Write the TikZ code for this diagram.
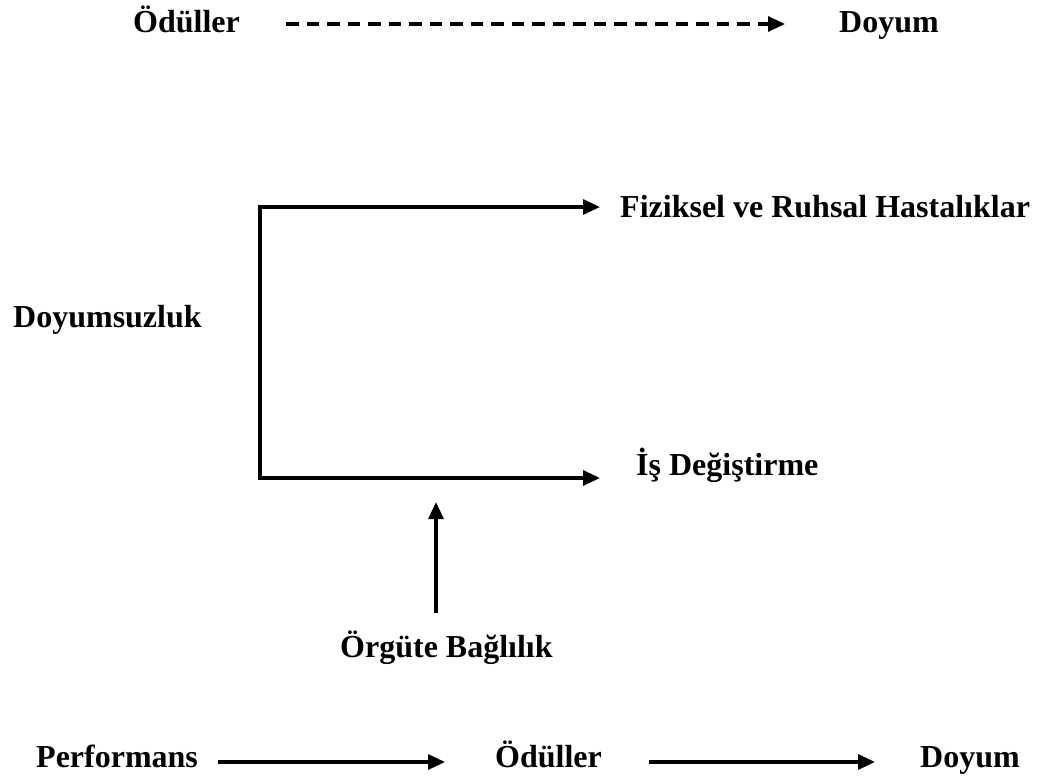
\documentclass[tikz,border=0pt]{standalone}
\usepackage{fontspec}
\setmainfont{Liberation Serif}
\usetikzlibrary{arrows.meta}
\begin{document}
\begin{tikzpicture}[x=1pt,y=-1pt,
  lbl/.style={anchor=base west,inner sep=0pt,font=\fontsize{32}{38}\selectfont\bfseries},
  arr/.style={line width=3.2pt,-{Triangle[length=17pt,width=15pt]}},
  arr2/.style={line width=3.2pt,{Triangle[length=17pt,width=15pt]}-{Triangle[length=17pt,width=15pt]},line join=miter},
  dsh/.style={arr,dash pattern=on 12.5pt off 8pt}]
\useasboundingbox (0,0) rectangle (1041,782);
% texts
\node[lbl] (o1) at (133,32) {Ödüller};
\node[lbl] (d1) at (839,32) {Doyum};
\node[lbl] (fz) at (620,217) {Fiziksel ve Ruhsal Hastalıklar};
\node[lbl] (ds) at (13,327) {Doyumsuzluk};
\node[lbl] (is) at (636,475) {İş Değiştirme};
\node[lbl] (ob) at (340,657) {Örgüte Bağlılık};
\node[lbl] (pf) at (36,767) {Performans};
\node[lbl] (o2) at (495,767) {Ödüller};
\node[lbl] (d2) at (920,767) {Doyum};
% connector points
\coordinate (a1s) at (286,24);
\coordinate (a1e) at (785,24);
\coordinate (bt) at (260,207);
\coordinate (bb) at (260,478);
\coordinate (t1) at (600,207);
\coordinate (t2) at (600,478);
\coordinate (vs) at (436,613);
\coordinate (ve) at (436,502);
\coordinate (p1) at (218,762);
\coordinate (p2) at (445,762);
\coordinate (q1) at (649,762);
\coordinate (q2) at (875,762);
% connectors
\draw[dsh] (a1s) -- (a1e);
\draw[arr2] (t1) -- (bt) -- (bb) -- (t2);
\draw[arr] (vs) -- (ve);
\draw[arr] (p1) -- (p2);
\draw[arr] (q1) -- (q2);
\end{tikzpicture}
\end{document}
